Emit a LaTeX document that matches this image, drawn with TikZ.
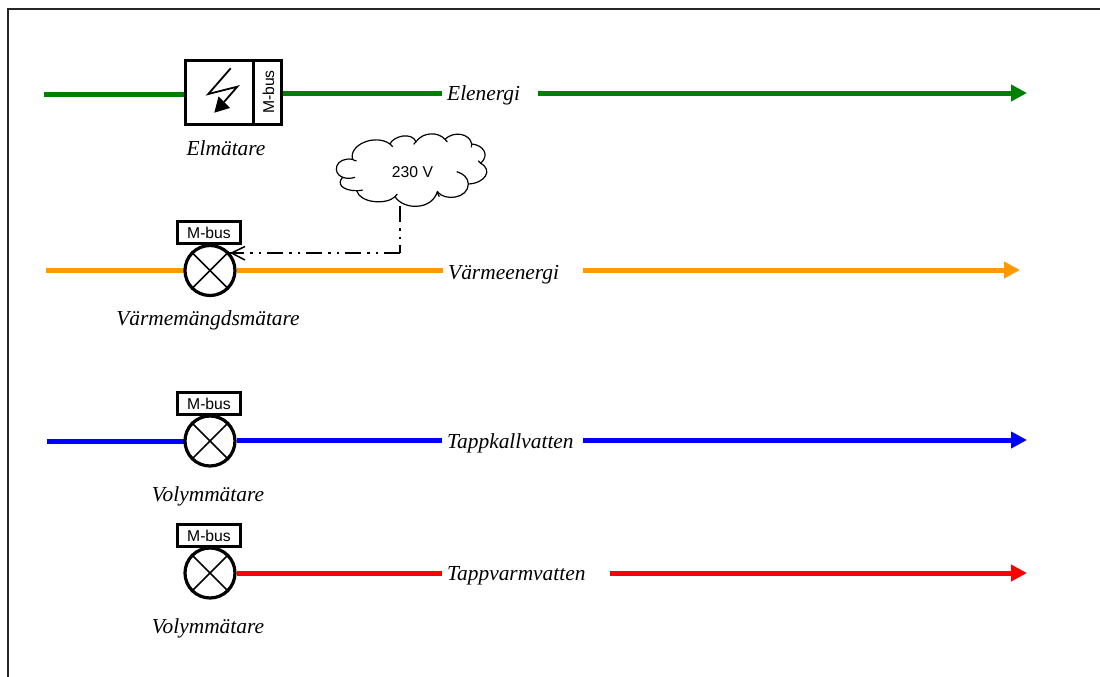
\documentclass[tikz,border=0pt]{standalone}
\usepackage{fontspec}
\setmainfont{Liberation Serif}
\newfontfamily\arialf{Liberation Sans}
\usetikzlibrary{arrows.meta}
\definecolor{elgreen}{RGB}{0,128,0}
\definecolor{heatorange}{RGB}{255,153,0}
\tikzset{
  x=1pt,y=-1pt,
  meter/.style={circle,draw=black,line width=3.2pt,minimum size=50pt,inner sep=0pt,fill=white},
  crossline/.style={line width=1.7pt},
  busbox/.style={rectangle,draw=black,line width=3pt,minimum width=63pt,minimum height=22pt,inner sep=0pt,fill=white,font=\arialf\fontsize{15.7}{17}\selectfont},
  caption/.style={inner sep=0pt,font=\itshape\fontsize{21.4}{24}\selectfont},
  flowlabel/.style={anchor=west,inner xsep=5pt,inner ysep=0pt,font=\itshape\fontsize{21.4}{24}\selectfont},
  flow/.style={line width=5pt},
  flowarrow/.style={line width=5pt,-{Triangle[length=16pt,width=16pt]}},
  meterbox/.style={rectangle,draw=black,line width=3pt,fill=white,minimum height=63.4pt,inner sep=0pt},
  supply/.style={line width=1.5pt,dash pattern=on 16pt off 6pt on 2.5pt off 6pt on 2.5pt off 6pt},
}
\begin{document}
\begin{tikzpicture}
\useasboundingbox (0,0) rectangle (1100,677);
\draw[line width=1.2pt,color=black!85] (8,677) -- (8,9) -- (1100,9);

% ---- flow end points
\coordinate (gs) at (44,94);
\coordinate (ga) at (538,93);
\coordinate (ge) at (1027,93);
\coordinate (os) at (46,270);
\coordinate (oa) at (583,270);
\coordinate (oe) at (1020,270);
\coordinate (bs) at (47,441.5);
\coordinate (ba) at (583,440);
\coordinate (be) at (1027,440);
\coordinate (ra) at (610,573);
\coordinate (re) at (1027,573);

% ---- labels
\node[flowlabel] (lel) at (442,95) {Elenergi};
\node[flowlabel] (lvm) at (443,274.5) {Värmeenergi};
\node[flowlabel] (lkv) at (442,443) {Tappkallvatten};
\node[flowlabel] (lvv) at (442,575.5) {Tappvarmvatten};

% ---- flows, left side
\draw[flow,elgreen] (gs) -- (184,94);
\draw[flow,heatorange] (os) -- (190,270);
\draw[flow,blue] (bs) -- (190,441.5);

% ---- electricity meter
\node[meterbox,minimum width=68pt] (em) at (219,92.5) {};
\node[meterbox,minimum width=28.2pt] (eb) at (267.1,92.5) {};
\node[rotate=90,inner sep=0pt,font=\arialf\fontsize{15.7}{17}\selectfont] (ebt) at (268.5,92) {M-bus};
\draw[line width=1.8pt,line join=miter] (230.7,68.3) -- (208.3,94) -- (237.3,86.7) -- (224,102);
\fill (214.3,112.7) -- (218.5,96.5) -- (230,108) -- cycle;
\node[caption] (cel) at (226,148) {Elmätare};

% ---- meters
\node[meter] (m1) at (210,270.5) {};
\node[meter] (m2) at (210,441) {};
\node[meter] (m3) at (210,573) {};
\foreach \m in {m1,m2,m3}{
  \draw[crossline] (\m.45) -- (\m.225);
  \draw[crossline] (\m.135) -- (\m.315);
}
\node[busbox] (b1) at (209,232.5) {M-bus};
\node[busbox] (b2) at (209,403.5) {M-bus};
\node[busbox] (b3) at (209,535.5) {M-bus};
\node[caption] (c1) at (208,320) {Värmemängdsmätare};
\node[caption] (c2) at (208,496) {Volymmätare};
\node[caption] (c3) at (208,628) {Volymmätare};

% ---- flows, right side
\draw[flow,elgreen] (eb.east |- ga) -- (lel.west |- ga);
\draw[flow,heatorange] (m1.east |- oa) -- (lvm.west |- oa);
\draw[flow,blue] (m2.east |- ba) -- (lkv.west |- ba);
\draw[flow,red] (m3.east) -- (lvv.west |- m3.east);
\draw[flowarrow,elgreen] (ga) -- (ge);
\draw[flowarrow,heatorange] (oa) -- (oe);
\draw[flowarrow,blue] (ba) -- (be);
\draw[flowarrow,red] (ra) -- (re);

% ---- cloud
\begin{scope}[shift={(160,120)},x=0.33333pt,y=-0.33333pt,line width=1.2pt]
\draw[fill=white]
  (578,118) .. controls (565,75) and (645,40) .. (690,72)
  .. controls (700,48) and (755,35) .. (768,65)
  .. controls (790,35) and (835,35) .. (855,58)
  .. controls (880,32) and (930,40) .. (935,72)
  .. controls (970,75) and (990,105) .. (962,130)
  .. controls (1000,150) and (975,190) .. (925,192)
  .. controls (925,235) and (855,245) .. (832,215)
  .. controls (815,272) and (730,270) .. (705,230)
  .. controls (680,255) and (600,250) .. (590,212)
  .. controls (545,212) and (530,190) .. (548,172)
  .. controls (515,160) and (525,110) .. (578,118) -- cycle;
\draw (548,172) .. controls (560,176) and (572,176) .. (585,172);
\draw (578,118) .. controls (582,122) and (586,123) .. (590,122);
\draw (925,192) .. controls (925,175) and (910,160) .. (890,155);
\draw (962,130) .. controls (958,128) and (956,126) .. (955,122);
\draw (832,215) .. controls (833,220) and (835,226) .. (838,230);
\draw (705,230) .. controls (708,226) and (710,224) .. (712,222);
\draw (590,212) .. controls (596,212) and (602,212) .. (608,210);
\draw (690,72) .. controls (694,75) and (696,77) .. (698,80);
\draw (768,65) .. controls (765,68) and (763,70) .. (761,73);
\draw (855,58) .. controls (858,61) and (860,63) .. (862,66);
\draw (935,72) .. controls (935,75) and (935,78) .. (934,82);
\end{scope}
\node[inner sep=0pt,font=\arialf\fontsize{15.7}{17}\selectfont] (cl) at (412.5,172) {230 V};
\coordinate (cb) at (400,206);
\coordinate (ccorner) at (400,253);

% ---- supply line
\draw[supply] (cb) -- (ccorner);
\draw[supply] (ccorner) -- (m1.47 |- ccorner);
\draw[line width=1.5pt] (245,246.5) -- (231.5,253) -- (245,260);
\end{tikzpicture}
\end{document}
